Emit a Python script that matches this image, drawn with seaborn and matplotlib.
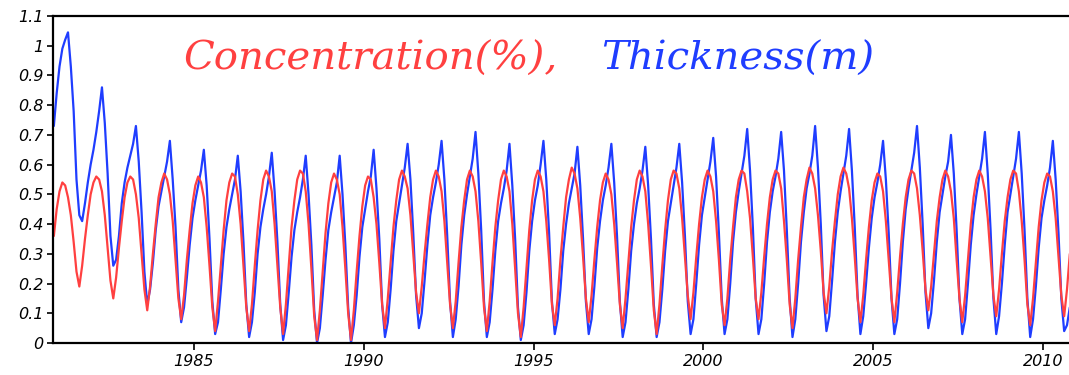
import matplotlib
matplotlib.use("Agg")
import matplotlib.pyplot as plt
import pandas as pd
import seaborn as sns

# ---------------- data ----------------
years = list(range(1981, 2011))

# monthly sea-ice concentration (fraction), 12 values per year (Nov..Oct)
concentration = [
    0.36, 0.45, 0.51, 0.54, 0.53, 0.49, 0.43, 0.34, 0.24, 0.19, 0.26, 0.35,
    0.43, 0.50, 0.54, 0.56, 0.55, 0.51, 0.43, 0.32, 0.21, 0.15, 0.22, 0.32,
    0.41, 0.49, 0.54, 0.56, 0.55, 0.50, 0.42, 0.30, 0.18, 0.11, 0.19, 0.30,
    0.40, 0.49, 0.54, 0.57, 0.55, 0.50, 0.41, 0.28, 0.15, 0.08, 0.16, 0.28,
    0.38, 0.47, 0.53, 0.56, 0.54, 0.49, 0.39, 0.26, 0.12, 0.04, 0.14, 0.26,
    0.38, 0.48, 0.54, 0.57, 0.56, 0.50, 0.40, 0.26, 0.12, 0.04, 0.13, 0.26,
    0.38, 0.48, 0.55, 0.58, 0.56, 0.51, 0.40, 0.26, 0.12, 0.03, 0.13, 0.26,
    0.39, 0.48, 0.55, 0.58, 0.57, 0.51, 0.40, 0.25, 0.09, 0.01, 0.11, 0.24,
    0.37, 0.47, 0.54, 0.57, 0.55, 0.50, 0.39, 0.25, 0.10, 0.01, 0.11, 0.24,
    0.36, 0.46, 0.53, 0.56, 0.55, 0.49, 0.40, 0.27, 0.13, 0.05, 0.15, 0.27,
    0.39, 0.48, 0.55, 0.58, 0.56, 0.52, 0.43, 0.30, 0.17, 0.10, 0.19, 0.30,
    0.40, 0.49, 0.55, 0.58, 0.56, 0.51, 0.41, 0.27, 0.13, 0.05, 0.14, 0.27,
    0.39, 0.48, 0.55, 0.58, 0.56, 0.51, 0.41, 0.27, 0.12, 0.04, 0.14, 0.27,
    0.39, 0.48, 0.55, 0.58, 0.56, 0.51, 0.40, 0.25, 0.10, 0.02, 0.12, 0.25,
    0.38, 0.48, 0.55, 0.58, 0.56, 0.51, 0.41, 0.28, 0.13, 0.06, 0.15, 0.28,
    0.39, 0.49, 0.55, 0.59, 0.57, 0.52, 0.42, 0.29, 0.15, 0.07, 0.16, 0.28,
    0.39, 0.48, 0.54, 0.57, 0.55, 0.50, 0.40, 0.27, 0.13, 0.05, 0.15, 0.27,
    0.39, 0.48, 0.55, 0.58, 0.56, 0.51, 0.40, 0.26, 0.11, 0.03, 0.13, 0.26,
    0.38, 0.48, 0.55, 0.58, 0.57, 0.52, 0.42, 0.29, 0.16, 0.08, 0.17, 0.29,
    0.40, 0.49, 0.55, 0.58, 0.56, 0.51, 0.41, 0.28, 0.13, 0.06, 0.15, 0.28,
    0.39, 0.49, 0.55, 0.58, 0.57, 0.51, 0.42, 0.29, 0.15, 0.08, 0.17, 0.29,
    0.40, 0.49, 0.55, 0.58, 0.57, 0.52, 0.41, 0.28, 0.13, 0.05, 0.15, 0.28,
    0.39, 0.49, 0.55, 0.59, 0.57, 0.52, 0.43, 0.31, 0.17, 0.10, 0.19, 0.31,
    0.41, 0.50, 0.56, 0.59, 0.57, 0.52, 0.42, 0.29, 0.15, 0.07, 0.16, 0.28,
    0.39, 0.48, 0.54, 0.57, 0.56, 0.51, 0.41, 0.28, 0.15, 0.07, 0.17, 0.29,
    0.40, 0.49, 0.55, 0.58, 0.57, 0.52, 0.43, 0.31, 0.18, 0.11, 0.19, 0.30,
    0.41, 0.49, 0.55, 0.58, 0.56, 0.51, 0.42, 0.28, 0.15, 0.07, 0.16, 0.28,
    0.40, 0.49, 0.55, 0.58, 0.56, 0.51, 0.42, 0.29, 0.16, 0.09, 0.18, 0.30,
    0.41, 0.49, 0.55, 0.58, 0.57, 0.51, 0.41, 0.28, 0.13, 0.06, 0.15, 0.27,
    0.39, 0.48, 0.54, 0.57, 0.56, 0.51, 0.42, 0.29, 0.16, 0.09, 0.18, 0.30,
]

# monthly sea-ice thickness (m), 12 values per year (Nov..Oct)
thickness = [
    0.73, 0.84, 0.93, 0.99, 1.02, 1.045, 0.93, 0.78, 0.55, 0.43, 0.41, 0.47,
    0.54, 0.60, 0.65, 0.71, 0.78, 0.86, 0.74, 0.57, 0.36, 0.26, 0.28, 0.36,
    0.47, 0.54, 0.59, 0.63, 0.67, 0.73, 0.61, 0.44, 0.24, 0.13, 0.18, 0.27,
    0.38, 0.46, 0.51, 0.56, 0.61, 0.68, 0.55, 0.39, 0.18, 0.07, 0.12, 0.22,
    0.33, 0.42, 0.48, 0.53, 0.58, 0.65, 0.53, 0.35, 0.14, 0.03, 0.07, 0.18,
    0.30, 0.39, 0.45, 0.50, 0.55, 0.63, 0.51, 0.34, 0.13, 0.02, 0.07, 0.17,
    0.30, 0.39, 0.45, 0.50, 0.56, 0.64, 0.51, 0.34, 0.13, 0.01, 0.06, 0.17,
    0.29, 0.38, 0.44, 0.49, 0.55, 0.63, 0.50, 0.33, 0.11, 0.00, 0.05, 0.16,
    0.28, 0.38, 0.44, 0.49, 0.54, 0.63, 0.50, 0.33, 0.12, 0.00, 0.06, 0.16,
    0.29, 0.39, 0.45, 0.51, 0.56, 0.65, 0.52, 0.35, 0.13, 0.02, 0.07, 0.18,
    0.31, 0.41, 0.47, 0.53, 0.59, 0.67, 0.55, 0.37, 0.16, 0.05, 0.10, 0.21,
    0.33, 0.43, 0.49, 0.54, 0.60, 0.68, 0.55, 0.36, 0.14, 0.02, 0.08, 0.19,
    0.33, 0.43, 0.50, 0.56, 0.62, 0.71, 0.57, 0.38, 0.14, 0.02, 0.07, 0.18,
    0.31, 0.41, 0.47, 0.52, 0.58, 0.67, 0.53, 0.35, 0.12, 0.01, 0.06, 0.17,
    0.31, 0.41, 0.48, 0.53, 0.60, 0.68, 0.55, 0.37, 0.14, 0.03, 0.08, 0.18,
    0.31, 0.40, 0.47, 0.52, 0.57, 0.66, 0.53, 0.35, 0.14, 0.03, 0.08, 0.19,
    0.32, 0.41, 0.48, 0.53, 0.59, 0.67, 0.54, 0.36, 0.14, 0.02, 0.07, 0.18,
    0.31, 0.40, 0.47, 0.52, 0.58, 0.66, 0.53, 0.35, 0.13, 0.02, 0.07, 0.18,
    0.31, 0.41, 0.47, 0.53, 0.59, 0.67, 0.54, 0.36, 0.14, 0.03, 0.08, 0.20,
    0.33, 0.43, 0.49, 0.55, 0.61, 0.69, 0.56, 0.37, 0.15, 0.03, 0.08, 0.20,
    0.34, 0.44, 0.51, 0.57, 0.63, 0.72, 0.58, 0.39, 0.15, 0.03, 0.08, 0.20,
    0.34, 0.44, 0.51, 0.56, 0.62, 0.71, 0.58, 0.38, 0.15, 0.02, 0.08, 0.20,
    0.34, 0.44, 0.52, 0.57, 0.63, 0.73, 0.59, 0.40, 0.16, 0.04, 0.09, 0.21,
    0.34, 0.44, 0.51, 0.57, 0.63, 0.72, 0.58, 0.39, 0.16, 0.03, 0.09, 0.20,
    0.32, 0.42, 0.49, 0.54, 0.60, 0.68, 0.55, 0.37, 0.15, 0.03, 0.08, 0.20,
    0.34, 0.45, 0.52, 0.58, 0.64, 0.73, 0.59, 0.40, 0.17, 0.05, 0.10, 0.21,
    0.34, 0.44, 0.50, 0.56, 0.61, 0.70, 0.57, 0.38, 0.15, 0.03, 0.08, 0.20,
    0.33, 0.43, 0.50, 0.56, 0.62, 0.71, 0.57, 0.38, 0.15, 0.03, 0.09, 0.20,
    0.33, 0.44, 0.50, 0.56, 0.62, 0.71, 0.57, 0.38, 0.15, 0.02, 0.08, 0.19,
    0.32, 0.42, 0.48, 0.53, 0.59, 0.68, 0.55, 0.37, 0.15, 0.04, 0.06, 0.12,
]

xtick_values = [1985, 1990, 1995, 2000, 2005, 2010]
xtick_labels = ["1985", "1990", "1995", "2000", "2005", "2010"]
ytick_values = [0, 0.1, 0.2, 0.3, 0.4, 0.5, 0.6, 0.7, 0.8, 0.9, 1.0, 1.1]
ytick_labels = ["0", "0.1", "0.2", "0.3", "0.4", "0.5", "0.6", "0.7",
                "0.8", "0.9", "1", "1.1"]
label_conc = "Concentration(%),"
label_thick = "Thickness(m)"

# ---------------- build table ----------------
time = [y + (k - 1.5) / 12.0 for y in years for k in range(12)]
n = len(time)
df = pd.DataFrame({
    "time": time + time,
    "value": thickness + concentration,
    "series": ["Thickness"] * n + ["Concentration"] * n,
})

# ---------------- figure ----------------
sns.set_style("ticks")
plt.rcParams["font.family"] = ["DejaVu Sans"]

W, H = 1069, 375
fig = plt.figure(figsize=(W / 100, H / 100), dpi=100)
ax_left, ax_bottom, ax_top = 53, 343, 16
ax_width_px = 1030
ax = fig.add_axes([ax_left / W, (H - ax_bottom) / H,
                   ax_width_px / W, (ax_bottom - ax_top) / H])

sns.lineplot(data=df, x="time", y="value", hue="series",
             hue_order=["Thickness", "Concentration"],
             palette={"Thickness": "#1f3dff", "Concentration": "#ff4040"},
             linewidth=1.6, legend=False, ax=ax, sort=False)

px_per_year = 33.96
x0 = 1980.85
ax.set_xlim(x0, x0 + ax_width_px / px_per_year)
ax.set_ylim(0, 1.1)

ax.set_xticks(xtick_values)
ax.set_xticklabels(xtick_labels)
ax.set_yticks(ytick_values)
ax.set_yticklabels(ytick_labels)
ax.set_xlabel("")
ax.set_ylabel("")

for sp in ["left", "bottom", "top", "right"]:
    ax.spines[sp].set_visible(True)
    ax.spines[sp].set_linewidth(1.6)
    ax.spines[sp].set_color("black")

ax.tick_params(axis="x", direction="out", length=5, width=1.2,
               labelsize=11.5, pad=3, colors="black")
ax.tick_params(axis="y", direction="out", length=4, width=1.2,
               labelsize=11.5, pad=3, colors="black")
for lab in ax.get_xticklabels() + ax.get_yticklabels():
    lab.set_fontstyle("italic")

fig.text(183 / W, 1 - 70 / H, label_conc, color="#ff4040",
         fontsize=29, family="DejaVu Serif", style="italic",
         ha="left", va="baseline")
fig.text(738 / W, 1 - 70 / H, label_thick, color="#1f3dff",
         fontsize=29, family="DejaVu Serif", style="italic",
         ha="center", va="baseline")

fig.savefig("out.png", dpi=100)
